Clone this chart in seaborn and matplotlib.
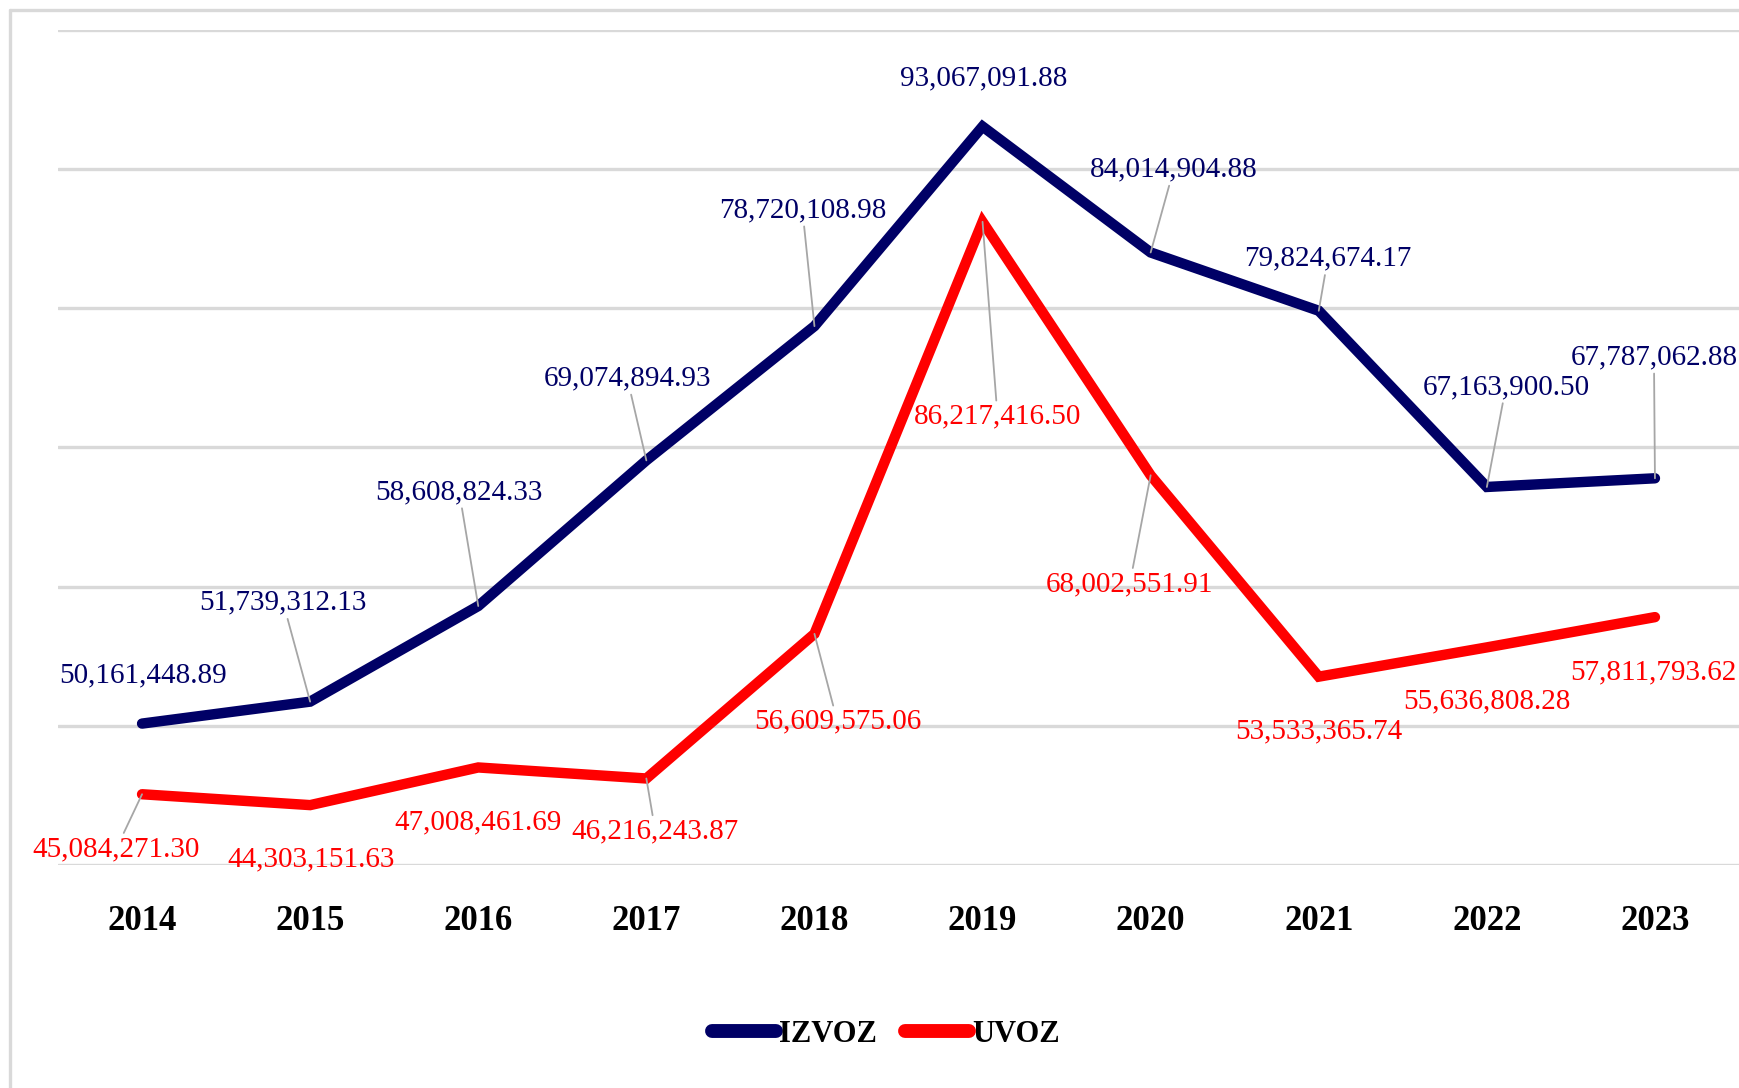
import pandas as pd
import matplotlib.pyplot as plt
import seaborn as sns
from matplotlib.lines import Line2D

sns.set_theme(style='white')
plt.rcParams['font.family'] = ['Liberation Serif', 'DejaVu Serif']

years = ['2014', '2015', '2016', '2017', '2018', '2019', '2020', '2021', '2022', '2023']
izvoz = [50161448.89, 51739312.13, 58608824.33, 69074894.93, 78720108.98,
         93067091.88, 84014904.88, 79824674.17, 67163900.50, 67787062.88]
uvoz = [45084271.30, 44303151.63, 47008461.69, 46216243.87, 56609575.06,
        86217416.50, 68002551.91, 53533365.74, 55636808.28, 57811793.62]
series_names = ['IZVOZ', 'UVOZ']
colors = {'IZVOZ': '#000066', 'UVOZ': '#FF0000'}

# label offsets from the point, in pixels (dx, dy), and whether a leader line shows
izvoz_offsets = [(1, 48), (-27, 99), (-19, 114), (-19, 82), (-12, 116),
                 (1, 48), (23, 83), (9, 52), (19, 100), (-1, 121)]
izvoz_leader = [False, True, True, True, True, False, True, True, True, True]
uvoz_offsets = [(-26, -55), (1, -54), (0, -55), (9, -53), (23, -88),
                (15, -195), (-21, -109), (0, -55), (0, -54), (-2, -55)]
uvoz_leader = [True, False, False, True, True, True, True, False, False, False]

df = pd.DataFrame({
    'year': years * 2,
    'value': izvoz + uvoz,
    'kind': [series_names[0]] * len(years) + [series_names[1]] * len(years),
})

fig = plt.figure(figsize=(17.39, 10.88), dpi=100)
ax = fig.add_axes([58 / 1739, 1 - 865 / 1088, 1 - 58 / 1739, (865 - 30) / 1088])

sns.lineplot(data=df, x='year', y='value', hue='kind', palette=colors,
             linewidth=7.5, sort=False, ax=ax, legend=False,
             solid_capstyle='round', solid_joinstyle='miter')

ax.set_xlim(-0.5, len(years) - 0.5)
ax.set_ylim(40e6, 100e6)
ax.set_yticks([40e6, 50e6, 60e6, 70e6, 80e6, 90e6, 100e6])
ax.yaxis.grid(True, color='#D9D9D9', linewidth=2.4)
ax.set_axisbelow(True)
ax.set_yticklabels([])
ax.tick_params(axis='y', length=0)
ax.tick_params(axis='x', length=0, pad=29)
for lab in ax.get_xticklabels():
    lab.set_fontsize(25)
    lab.set_fontweight('bold')
    lab.set_color('black')
ax.set_xlabel('')
ax.set_ylabel('')
for s in ax.spines.values():
    s.set_visible(False)


def add_labels(values, offsets, leaders, color):
    for i, v in enumerate(values):
        dx, dy = offsets[i]
        props = None
        if leaders[i]:
            props = dict(arrowstyle='-', color='#A6A6A6', lw=1.3,
                         shrinkA=0, shrinkB=0)
        ax.annotate(f'{v:,.2f}', xy=(i, v), xytext=(dx, dy),
                    textcoords='offset pixels', ha='center', va='center',
                    fontsize=21, color=color, arrowprops=props,
                    annotation_clip=False)


add_labels(izvoz, izvoz_offsets, izvoz_leader, colors['IZVOZ'])
add_labels(uvoz, uvoz_offsets, uvoz_leader, colors['UVOZ'])

handles = [Line2D([0], [0], color=colors[n], lw=10, solid_capstyle='round') for n in series_names]
fig.legend(handles, series_names, loc='center', bbox_to_anchor=(886 / 1739, 1 - 1034 / 1088),
           ncol=2, frameon=False, handlelength=2.1, handletextpad=0.1,
           columnspacing=0.9, labelcolor='black', prop={'size': 22, 'weight': 'bold'})

# outer chart frame (left and top edges visible)
fig.add_artist(Line2D([10 / 1739, 10 / 1739], [0, 1 - 10 / 1088], color='#D9D9D9', lw=2.4))
fig.add_artist(Line2D([10 / 1739, 1], [1 - 10 / 1088, 1 - 10 / 1088], color='#D9D9D9', lw=2.4))

plt.savefig('out.png', dpi=100)
plt.close()
